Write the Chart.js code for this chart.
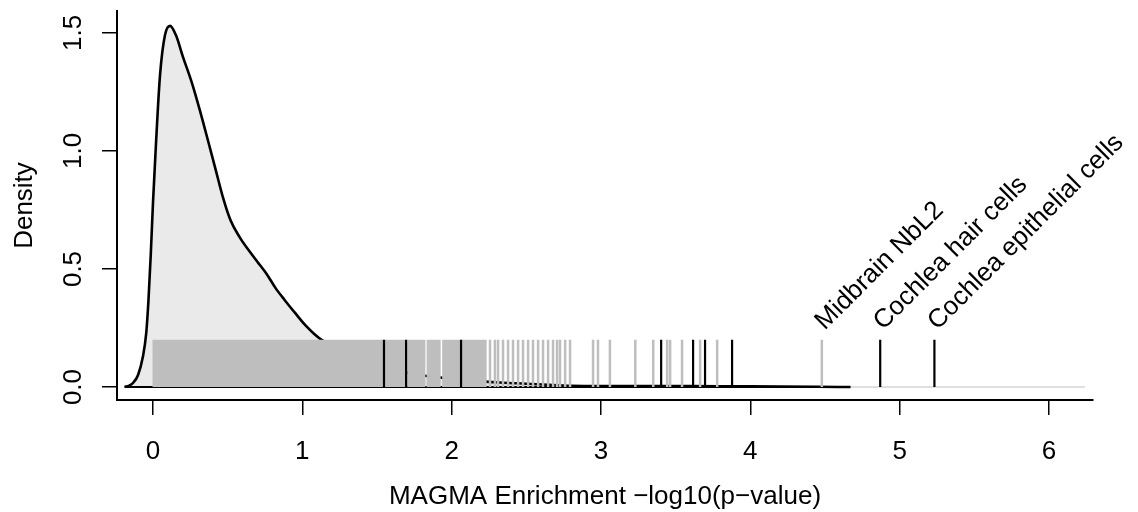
<!DOCTYPE html>
<html>
<head>
<meta charset="utf-8">
<script src="https://cdn.jsdelivr.net/npm/chart.js@4.4.1/dist/chart.umd.min.js"></script>
<style>
  html, body { margin: 0; padding: 0; background: #fff; }
  #wrap { width: 1138px; height: 512px; }
</style>
</head>
<body>
<div id="wrap"><canvas id="densityChart"></canvas></div>
<script>
// density curve of -log10(p)
var densX = [-0.19, -0.16, -0.134, -0.10, -0.067, -0.045, -0.03, -0.015, 0.00, 0.02, 0.047, 0.08, 0.114,
  0.154, 0.20, 0.26, 0.315, 0.37, 0.42, 0.47, 0.52, 0.58, 0.64, 0.70, 0.76, 0.82, 0.88, 0.95, 1.02,
  1.08, 1.132, 1.25, 1.40, 1.60, 1.80, 2.00, 2.20, 2.35, 2.50, 2.65, 2.80, 3.00, 3.30, 3.60, 3.90,
  4.20, 4.45, 4.67];
var densY = [0.000, 0.006, 0.017, 0.051, 0.130, 0.230, 0.370, 0.560, 0.780, 1.030, 1.320, 1.490, 1.530,
  1.490, 1.400, 1.290, 1.170, 1.040, 0.920, 0.800, 0.705, 0.635, 0.580, 0.530, 0.480, 0.420, 0.370,
  0.315, 0.262, 0.225, 0.199, 0.160, 0.115, 0.075, 0.050, 0.035, 0.024, 0.018, 0.014, 0.009, 0.005,
  0.004, 0.004, 0.004, 0.003, 0.002, 0.001, 0.000];

// rug: one tick per cell type
var rugGrey = [0.005, 0.018, 0.031, 0.046, 0.059, 0.073, 0.088, 0.101, 0.115, 0.128, 0.142, 0.157,
  0.170, 0.184, 0.199, 0.212, 0.226, 0.241, 0.254, 0.268, 0.283, 0.297, 0.311, 0.326, 0.339, 0.354,
  0.368, 0.383, 0.397, 0.412, 0.426, 0.441, 0.455, 0.470, 0.484, 0.499, 0.513, 0.528, 0.543, 0.557,
  0.572, 0.586, 0.601, 0.616, 0.630, 0.645, 0.660, 0.674, 0.689, 0.704, 0.718, 0.733, 0.748, 0.762,
  0.777, 0.792, 0.806, 0.821, 0.836, 0.851, 0.865, 0.880, 0.895, 0.910, 0.924, 0.939, 0.954, 0.969,
  0.983, 0.998, 1.013, 1.028, 1.043, 1.057, 1.072, 1.087, 1.102, 1.117, 1.131, 1.146, 1.161, 1.176,
  1.191, 1.206, 1.221, 1.235, 1.250, 1.265, 1.280, 1.295, 1.310, 1.325, 1.340, 1.355, 1.370, 1.384,
  1.399, 1.414, 1.429, 1.444, 1.459, 1.474, 1.489, 1.504, 1.519, 1.534, 1.562, 1.577, 1.592, 1.607,
  1.622, 1.637, 1.652, 1.667, 1.682, 1.711, 1.726, 1.741, 1.756, 1.771, 1.786, 1.801, 1.816, 1.841,
  1.858, 1.873, 1.888, 1.903, 1.918, 1.945, 1.960, 1.975, 1.990, 2.005, 2.020, 2.035, 2.050, 2.076,
  2.091, 2.106, 2.121, 2.136, 2.151, 2.166, 2.181, 2.196, 2.211, 2.226,
  2.257, 2.290, 2.311, 2.344, 2.378, 2.411, 2.445, 2.478, 2.512, 2.545, 2.579, 2.612, 2.646, 2.679,
  2.706, 2.726, 2.760, 2.793, 2.947, 2.980, 3.060, 3.230, 3.350, 3.443, 3.463, 3.543, 3.664, 3.778, 4.479];
var rugBlack = [1.547, 1.695, 2.063, 3.403, 3.617, 3.697, 3.878, 4.870, 5.233];
var rugTop = 0.2;

var labelX = [4.479, 4.870, 5.233];
var labelText = ['Midbrain NbL2', 'Cochlea hair cells', 'Cochlea epithelial cells'];

var xTicks = [0, 1, 2, 3, 4, 5, 6];
var yTicks = [0, 0.5, 1, 1.5];
var yTickLabels = ['0.0', '0.5', '1.0', '1.5'];
var zeroLineX = [-0.19, 6.24];

var FONT = "'Liberation Sans', Arial, sans-serif";
Chart.defaults.font.family = FONT;
Chart.defaults.font.size = 26;
Chart.defaults.color = '#000';

function rugPoints(vals) {
  var pts = [];
  vals.forEach(function (v) {
    pts.push({x: v, y: 0}, {x: v, y: rugTop}, {x: v, y: null});
  });
  return pts;
}

// rotated names above the top hits
var cellLabels = {
  id: 'cellLabels',
  afterDatasetsDraw: function (chart) {
    var ctx = chart.ctx, xs = chart.scales.x, ys = chart.scales.y;
    ctx.save();
    ctx.font = '26px ' + FONT;
    ctx.fillStyle = '#000';
    ctx.textAlign = 'left';
    ctx.textBaseline = 'alphabetic';
    labelX.forEach(function (v, i) {
      ctx.save();
      ctx.translate(xs.getPixelForValue(v) + 3, ys.getPixelForValue(rugTop) - 9);
      ctx.rotate(-Math.PI / 4);
      ctx.fillText(labelText[i], 0, 0);
      ctx.restore();
    });
    ctx.restore();
  }
};

var ctx = document.getElementById('densityChart').getContext('2d');

var myChart = new Chart(ctx, {
  type: 'line',
  data: {
    datasets: [{
      label: 'zero',
      data: zeroLineX.map(function (x) { return {x: x, y: 0}; }),
      borderColor: '#d4d4d4',
      borderWidth: 1.5,
      pointRadius: 0,
      order: 6
    }, {
      label: 'density',
      data: densX.map(function (x, i) { return {x: x, y: densY[i]}; }),
      borderColor: '#000',
      borderWidth: 2.6,
      backgroundColor: '#eaeaea',
      fill: 'origin',
      cubicInterpolationMode: 'monotone',
      pointRadius: 0,
      order: 5
    }, {
      label: 'base',
      data: [{x: densX[0], y: 0}, {x: densX[densX.length - 1], y: 0}],
      borderColor: '#000',
      borderWidth: 2,
      pointRadius: 0,
      order: 4
    }, {
      label: 'rug grey',
      data: rugPoints(rugGrey),
      borderColor: '#bebebe',
      borderWidth: 2.5,
      pointRadius: 0,
      order: 3
    }, {
      label: 'rug black',
      data: rugPoints(rugBlack),
      borderColor: '#000',
      borderWidth: 2.2,
      pointRadius: 0,
      order: 2
    }]
  },
  options: {
    responsive: true,
    maintainAspectRatio: false,
    animation: false,
    layout: { padding: { left: 0, right: 45, top: 11, bottom: 0 } },
    plugins: { legend: { display: false }, tooltip: { enabled: false } },
    scales: {
      x: {
        type: 'linear',
        min: -0.241,
        max: 6.295,
        afterBuildTicks: function (s) { s.ticks = xTicks.map(function (v) { return {value: v}; }); },
        afterFit: function (s) { s.height = 112; s.paddingLeft = 0; s.paddingRight = 0; },
        grid: { drawOnChartArea: false, color: '#000', lineWidth: 1.5, tickLength: 15 },
        border: { color: '#000', width: 2 },
        ticks: { color: '#000', padding: 21, maxRotation: 0, autoSkip: false,
                 callback: function (v) { return String(v); } },
        title: { display: true, text: 'MAGMA Enrichment \u2212log10(p\u2212value)', color: '#000',
                 padding: { top: 0, bottom: 0 } }
      },
      y: {
        type: 'linear',
        min: -0.055,
        max: 1.593,
        afterBuildTicks: function (s) { s.ticks = yTicks.map(function (v) { return {value: v}; }); },
        afterFit: function (s) { s.width = 117; s.paddingTop = 0; s.paddingBottom = 0; },
        grid: { drawOnChartArea: false, color: '#000', lineWidth: 1.5, tickLength: 15 },
        border: { color: '#000', width: 2 },
        ticks: { color: '#000', padding: 10, minRotation: 90, maxRotation: 90, crossAlign: 'center',
                 autoSkip: false, callback: function (v, i) { return yTickLabels[i]; } },
        title: { display: true, text: 'Density', color: '#000', padding: { top: 9, bottom: 0 } }
      }
    }
  },
  plugins: [cellLabels]
});
</script>
</body>
</html>
